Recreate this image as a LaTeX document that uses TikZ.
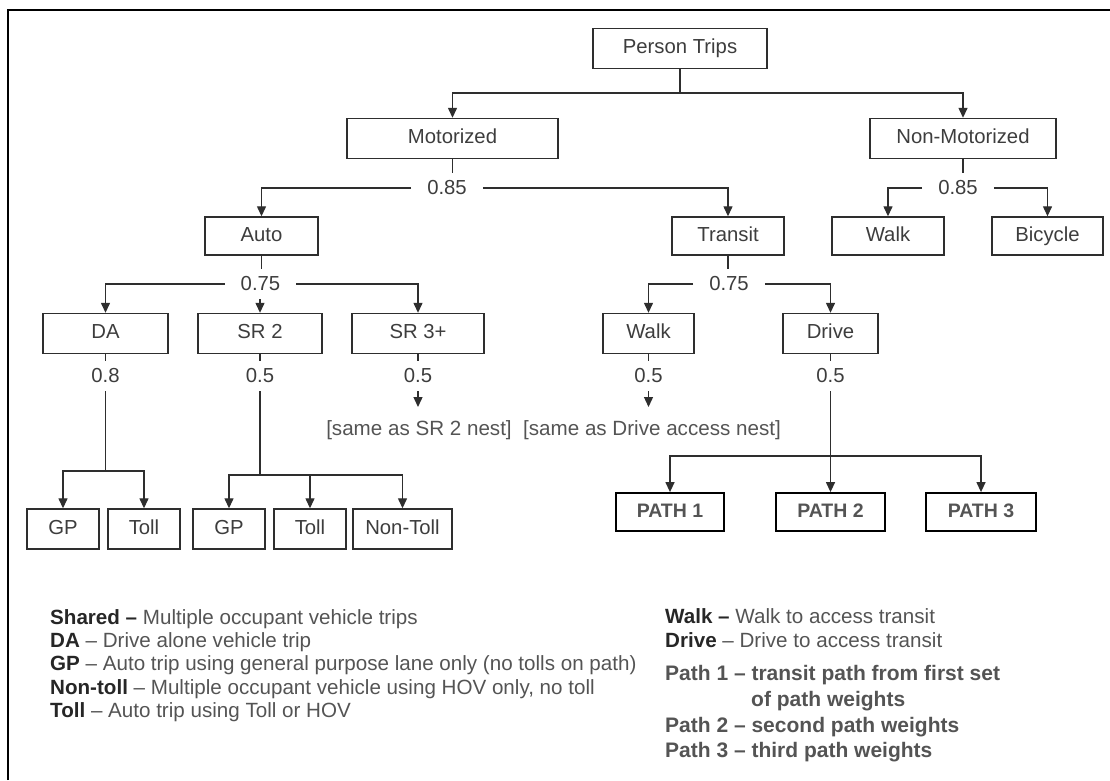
\documentclass[tikz,border=0pt]{standalone}
\usepackage{fontspec}
\setmainfont{Liberation Sans}
\usetikzlibrary{arrows.meta,calc}
\definecolor{LineClr}{rgb}{0.18,0.18,0.18}
\definecolor{TextClr}{rgb}{0.24,0.24,0.24}
\definecolor{NoteClr}{rgb}{0.33,0.33,0.33}
\definecolor{TermClr}{rgb}{0.15,0.15,0.15}
\newcommand\term[1]{{\color{TermClr}\bfseries #1}}

\begin{document}
\begin{tikzpicture}[x=1pt,y=-1pt,
  box/.style={draw=LineClr,line width=1.4pt,minimum height=40pt,inner sep=0pt,
    text height=14pt,text depth=4pt,text=TextClr,font=\fontsize{20.3}{24}\selectfont},
  pathbox/.style={box,draw=black,line width=1.8pt,minimum height=38pt,text=NoteClr,
    font=\fontsize{19.5}{24}\selectfont\bfseries},
  wt/.style={inner xsep=16pt,inner ysep=8pt,text=TextClr,font=\fontsize{20.3}{24}\selectfont},
  note/.style={inner sep=0pt,text=NoteClr,font=\fontsize{20.6}{24}\selectfont},
  legend/.style={note,anchor=base west},
  pathnote/.style={legend,font=\fontsize{21}{26}\selectfont\bfseries},
  con/.style={draw=LineClr,line width=1.3pt},
  arr/.style={con,-{Triangle[width=9pt,length=10pt]}}]
\useasboundingbox (0,0) rectangle (1110,780);

% frame
\draw[line width=2pt] (8,780) -- (8,10) -- (1110,10);

% nest boxes
\node[box,minimum width=174pt] (trips) at (680,48.5) {Person Trips};
\node[box,minimum width=211pt] (motor) at (452.5,138.5) {Motorized};
\node[box,minimum width=186pt] (nonmotor) at (963,138.5) {Non-Motorized};
\node[box,minimum width=113pt,minimum height=38pt] (auto) at (261.5,236) {Auto};
\node[box,minimum width=112pt,minimum height=38pt] (transit) at (728,236) {Transit};
\node[box,minimum width=112pt,minimum height=38pt] (walkNM) at (888,236) {Walk};
\node[box,minimum width=111pt,minimum height=38pt] (bike) at (1047.5,236) {Bicycle};
\node[box,minimum width=125pt] (da) at (105.5,333.5) {DA};
\node[box,minimum width=124pt] (srtwo) at (260,333.5) {SR 2};
\node[box,minimum width=132pt] (srthree) at (418,333.5) {SR 3+};
\node[box,minimum width=91pt] (walkT) at (648.5,333.5) {Walk};
\node[box,minimum width=95pt] (drive) at (830.5,333.5) {Drive};
\node[box,minimum width=72pt] (gpA) at (63,529) {GP};
\node[box,minimum width=72pt] (tollA) at (144,529) {Toll};
\node[box,minimum width=72pt] (gpB) at (229,529) {GP};
\node[box,minimum width=72pt] (tollB) at (310,529) {Toll};
\node[box,minimum width=99pt] (nontoll) at (402.5,529) {Non-Toll};
\node[pathbox,minimum width=108pt] (pathA) at (670,512) {PATH 1};
\node[pathbox,minimum width=109pt] (pathB) at (830.5,512) {PATH 2};
\node[pathbox,minimum width=110pt] (pathC) at (981,512) {PATH 3};

% nesting coefficients
\node[wt] (wM) at (447,188) {0.85};
\node[wt] (wN) at (958,188) {0.85};
\node[wt] (wA) at (260.5,284) {0.75};
\node[wt] (wT) at (729,284) {0.75};
\node[wt] (wDA) at (105.5,376) {0.8};
\node[wt] (wS2) at (260,376) {0.5};
\node[wt] (wS3) at (418,376) {0.5};
\node[wt] (wW) at (648.5,376) {0.5};
\node[wt] (wD) at (830.5,376) {0.5};

\node[note] (same1) at (419,430) {[same as SR 2 nest]};
\node[note] (same2) at (652,430) {[same as Drive access nest]};

\coordinate (jT) at (680,93);
\coordinate (jDA) at (105.5,471);
\coordinate (jS2) at (260,475);
\coordinate (jD) at (830.5,456);
\coordinate (eS3) at (418,407);
\coordinate (eW) at (648.5,407);

% Person Trips
\draw[con] (trips) -- (jT);
\draw[arr] (jT) -| (motor);
\draw[arr] (jT) -| (nonmotor);

% Motorized / Non-Motorized
\draw[con] (motor.south) -- (motor.south |- wM.north);
\draw[arr] (wM.west) -| (auto);
\draw[arr] (wM.east) -| (transit);
\draw[con] (nonmotor.south) -- (nonmotor.south |- wN.north);
\draw[arr] (wN.west) -| (walkNM);
\draw[arr] (wN.east) -| (bike);

% Auto / Transit
\draw[con] (auto.south) -- (auto.south |- wA.north);
\draw[arr] (wA.west) -| (da);
\draw[arr] (wA.east) -| (srthree);
\draw[arr] (wA.south -| srtwo) -- (srtwo);
\draw[con] (transit.south) -- (transit.south |- wT.north);
\draw[arr] (wT.west) -| (walkT);
\draw[arr] (wT.east) -| (drive);

% lower nests
\foreach \b/\w in {da/wDA,srtwo/wS2,srthree/wS3,walkT/wW,drive/wD}
  \draw[con] (\b.south) -- (\b.south |- \w.north);
\draw[con] (wDA) -- (jDA);
\draw[arr] (jDA) -| (gpA);
\draw[arr] (jDA) -| (tollA);
\draw[con] (wS2) -- (jS2);
\foreach \n in {gpB,tollB,nontoll}
  \draw[arr] (jS2) -| (\n);
\draw[arr] (wS3) -- (eS3);
\draw[arr] (wW) -- (eW);
\draw[con] (wD) -- (jD);
\foreach \n in {pathA,pathB,pathC}
  \draw[arr] (jD) -| (\n);

% key
\node[legend] (kShared) at (50,624) {\term{Shared –} Multiple occupant vehicle trips};
\node[legend] (kDA) at (50,647) {\term{DA} – Drive alone vehicle trip};
\node[legend] (kGP) at (50,670) {\term{GP} – Auto trip using general purpose lane only (no tolls on path)};
\node[legend] (kNT) at (50,694) {\term{Non-toll} – Multiple occupant vehicle using HOV only, no toll};
\node[legend] (kToll) at (50,717) {\term{Toll} – Auto trip using Toll or HOV};
\node[legend] (kWalk) at (665,623) {\term{Walk –} Walk to access transit};
\node[legend] (kDrive) at (665,647) {\term{Drive} – Drive to access transit};
\node[pathnote] (kP1) at (665,680) {Path 1 – transit path from first set};
\node[pathnote] (kP1b) at (751,706) {of path weights};
\node[pathnote] (kP2) at (665,732) {Path 2 – second path weights};
\node[pathnote] (kP3) at (665,757) {Path 3 – third path weights};
\end{tikzpicture}
\end{document}
